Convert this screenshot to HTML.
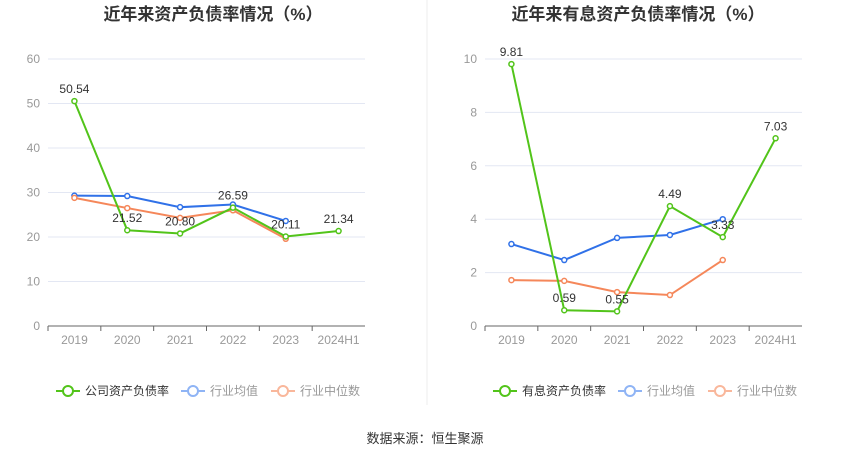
<!DOCTYPE html>
<html><head><meta charset="utf-8"><style>
body{margin:0;background:#fff;width:850px;height:459px;overflow:hidden;font-family:"Liberation Sans","Noto Sans CJK SC",sans-serif}
svg text{font-family:"Liberation Sans","Noto Sans CJK SC",sans-serif}
</style></head><body>
<svg id="s" width="850" height="459">
<text x="213" y="20" text-anchor="middle" font-size="17" font-weight="bold" fill="#333">近年来资产负债率情况（%）</text>
<text x="638" y="20" text-anchor="middle" font-size="17" font-weight="bold" fill="#333">近年来有息资产负债率情况（%）</text>
<line x1="427" y1="0" x2="427" y2="405" stroke="#eee"/>
<text x="425" y="443" text-anchor="middle" font-size="13" fill="#333">数据来源：恒生聚源</text>
</svg>
<script>
const categories=["2019","2020","2021","2022","2023","2024H1"];
const leftCompany=[50.54,21.52,20.80,26.59,20.11,21.34];
const leftAvg=[29.3,29.2,26.7,27.3,23.6];
const leftMedian=[28.8,26.5,24.3,26.0,19.6];
const leftTicks=[0,10,20,30,40,50,60];
const rightCompany=[9.81,0.59,0.55,4.49,3.33,7.03];
const rightAvg=[3.07,2.47,3.3,3.41,4.0];
const rightMedian=[1.72,1.69,1.27,1.16,2.47];
const rightTicks=[0,2,4,6,8,10];
const leftLegend=["公司资产负债率","行业均值","行业中位数"];
const rightLegend=["有息资产负债率","行业均值","行业中位数"];
const NS="http://www.w3.org/2000/svg",svg=document.getElementById("s");
function mk(t,a,p){const e=document.createElementNS(NS,t);for(const k in a)e.setAttribute(k,a[k]);(p||svg).appendChild(e);return e;}
const G="#52c41a",B="#3071e8",O="#f5875a";
function chart(x0,x1,max,ticks,comp,avg,med,leg,prefix){
 const yT=59,yB=326,step=(x1-x0)/categories.length;
 const xs=i=>x0+step*(i+0.5), ys=v=>yB-(v/max)*(yB-yT);
 ticks.forEach(t=>{
  const l=mk("line",{x1:x0,x2:x1,y1:ys(t),y2:ys(t),stroke:t?"#e3e7f3":"#666"});
  
  
  const tx=mk("text",{x:x0-8,y:ys(t)+4,"text-anchor":"end","font-size":12,fill:"#999"});tx.textContent=t;
  
  
 });
 categories.forEach((c,i)=>{
  const tx=mk("text",{x:xs(i),y:344,"text-anchor":"middle","font-size":12,fill:"#999"});tx.textContent=c;
  
  
  const tk=mk("line",{x1:x0+step*i,x2:x0+step*i,y1:yB,y2:yB+5,stroke:"#666"});
  
  
 });
 [[avg,B,"industry-avg"],[med,O,"industry-median"],[comp,G,"company"]].forEach(([d,c,n])=>{
  const p=mk("polyline",{points:d.map((v,i)=>xs(i)+","+ys(v)).join(" "),fill:"none",stroke:c,"stroke-width":2});
  
  
  d.forEach((v,i)=>{const ci=mk("circle",{cx:xs(i),cy:ys(v),r:2.5,fill:"#fff",stroke:c,"stroke-width":1.5});
   
   });
 });
 comp.forEach((v,i)=>{const tx=mk("text",{x:xs(i),y:ys(v)-8,"text-anchor":"middle","font-size":12,fill:"#333"});tx.textContent=v.toFixed(2);
  
  });
 const lx=[x0+8,x0+133,x0+223];
 [G,"#8fb4f5","#f9b79b"].forEach((c,i)=>{
  const g=mk("g",{});
  
  
  mk("line",{x1:lx[i],x2:lx[i]+24,y1:391,y2:391,stroke:c,"stroke-width":2},g);
  mk("circle",{cx:lx[i]+12,cy:391,r:5,fill:"#fff",stroke:c,"stroke-width":2},g);
  const t=mk("text",{x:lx[i]+29,y:395,"font-size":12,fill:i?"#999":"#333"},g);t.textContent=leg[i];
 });
}
chart(48,365,60,leftTicks,leftCompany,leftAvg,leftMedian,leftLegend,"left");
chart(485,802,10,rightTicks,rightCompany,rightAvg,rightMedian,rightLegend,"right");
</script>
</body></html>
